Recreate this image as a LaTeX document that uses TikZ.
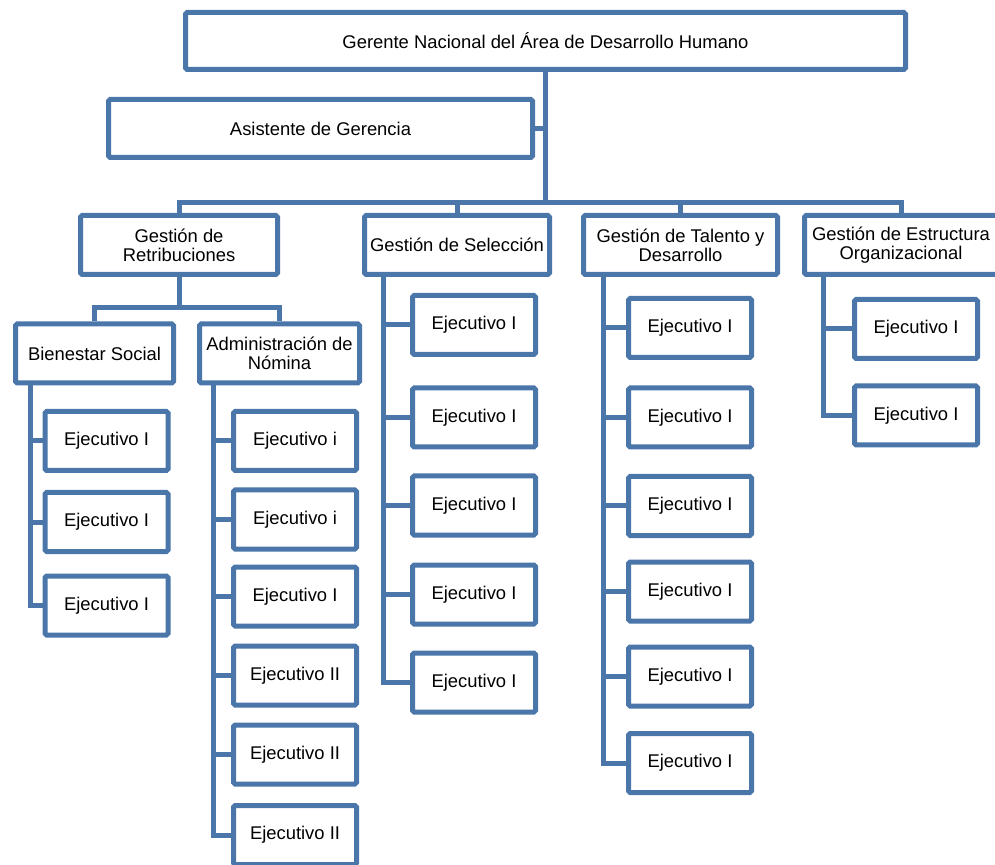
\documentclass[tikz,border=0pt]{standalone}
\usepackage{fontspec}
\setmainfont{Liberation Sans}
\usepackage{color}
\definecolor{orgblue}{RGB}{74, 118, 170}

\begin{document}
\begin{tikzpicture}[x=0.5pt, y=-0.5pt,
            box/.style={draw=orgblue, line width=2.5pt, rounded corners=0.8pt, fill=white,
                        align=center, inner sep=0pt, font=\fontsize{9.2}{9.4}\selectfont},
            headbox/.style={box, minimum height=29.5pt},
            exec/.style={box, minimum width=61.5pt, minimum height=29.5pt},
            link/.style={orgblue, line width=2.5pt}]
            % Frame to ensure alignment:
            \useasboundingbox                                                 (0, 0) rectangle (995, 865);
            % Gerencia
            \node[box, minimum width=360pt, minimum height=28.5pt] (gerente)  at (545.5, 41.0) {Gerente Nacional del Área de Desarrollo Humano};
            \node[box, minimum width=212pt, minimum height=29pt]   (asist)    at (320.5,128.5) {Asistente de Gerencia};
            % Gestiones
            \node[headbox, minimum width=98.5pt]                   (retrib)   at (179.0,245.0) {Gestión de\\Retribuciones};
            \node[headbox, minimum width=92.5pt]                   (selec)    at (457.0,245.0) {Gestión de Selección};
            \node[headbox, minimum width=97pt]                     (talento)  at (680.5,245.0) {Gestión de Talento y\\Desarrollo};
            \node[headbox, minimum width=96.5pt]                   (estruct)  at (901.0,245.0) {Gestión de Estructura\\Organizacional};
            \node[headbox, minimum width=79pt]                     (bienest)  at ( 94.5,353.5) {Bienestar Social};
            \node[headbox, minimum width=80pt]                     (admin)    at (279.5,353.5) {Administración de\\Nómina};
            % Joins
            \coordinate (mjoin) at (545.5,203);
            \coordinate (rjoin) at (179.0,308);
            \draw[link] (gerente.south) -- (mjoin);
            \draw[link] (asist.east) -- (asist.east -| mjoin);
            \draw[link] (retrib.north) |- (mjoin) -| (estruct.north);
            \draw[link] (selec.north) -- (selec.north |- mjoin);
            \draw[link] (talento.north) -- (talento.north |- mjoin);
            \draw[link] (retrib.south) -- (rjoin);
            \draw[link] (bienest.north) |- (rjoin) -| (admin.north);
            % Bienestar Social
            \foreach \y [count=\i] in {441.0, 522.0, 605.5} {
                \node[exec] (bs\i) at (106.5,\y) {Ejecutivo I};
                \draw[link] (bs\i.west -| 30,0) -- (bs\i.west);
            }
            \draw[link] (bienest.south -| 30,0) |- (bs3.west);
            % Administración de Nómina
            \foreach \y/\txt [count=\i] in {441.0/i, 519.5/i, 596.5/I, 675.5/II, 754.5/II, 835.0/II} {
                \node[exec] (an\i) at (295.0,\y) {Ejecutivo \txt};
                \draw[link] (an\i.west -| 213,0) -- (an\i.west);
            }
            \draw[link] (admin.south -| 213,0) |- (an6.west);
            % Selección
            \foreach \y [count=\i] in {325.0, 417.5, 505.5, 594.5, 682.5} {
                \node[exec] (se\i) at (474.0,\y) {Ejecutivo I};
                \draw[link] (se\i.west -| 383,0) -- (se\i.west);
            }
            \draw[link] (selec.south -| 383,0) |- (se5.west);
            % Talento y Desarrollo
            \foreach \y [count=\i] in {328.0, 417.5, 506.0, 591.5, 676.5, 763.0} {
                \node[exec] (td\i) at (690.0,\y) {Ejecutivo I};
                \draw[link] (td\i.west -| 603,0) -- (td\i.west);
            }
            \draw[link] (talento.south -| 603,0) |- (td6.west);
            % Estructura Organizacional
            \foreach \y [count=\i] in {329.0, 415.5} {
                \node[exec] (eo\i) at (916.0,\y) {Ejecutivo I};
                \draw[link] (eo\i.west -| 823,0) -- (eo\i.west);
            }
            \draw[link] (estruct.south -| 823,0) |- (eo2.west);
\end{tikzpicture}
\end{document}
